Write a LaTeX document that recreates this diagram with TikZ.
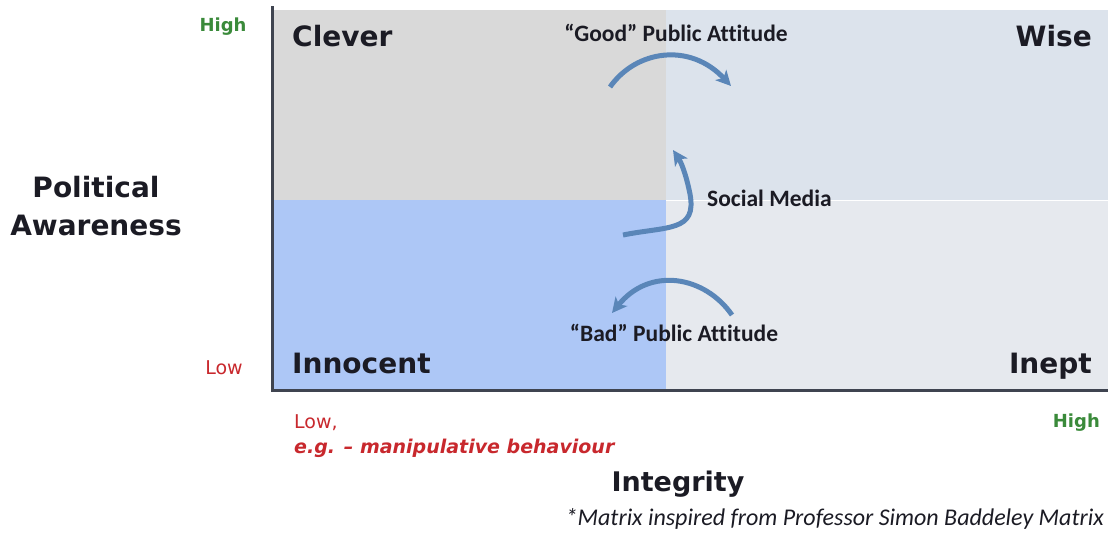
\documentclass[tikz,border=0pt]{standalone}
\usepackage{fontspec}
\setmainfont{Carlito}[Ligatures={TeX,NoCommon}]
\newfontfamily\quadfont{DejaVu Sans}
\usetikzlibrary{positioning}
\usetikzlibrary{arrows.meta}

\definecolor{cleverfill}{HTML}{D9D9D9}
\definecolor{wisefill}{HTML}{DCE3EC}
\definecolor{innocentfill}{HTML}{ADC7F6}
\definecolor{ineptfill}{HTML}{E6E9EE}
\definecolor{axisline}{HTML}{3F4450}
\definecolor{shiftblue}{HTML}{5A86B8}
\definecolor{highgreen}{HTML}{3A8A3A}
\definecolor{lowred}{HTML}{C8282D}
\definecolor{inktext}{HTML}{1B1B24}

\begin{document}
\begin{tikzpicture}[x=1pt, y=-1pt,
        % Quadrant names and the axis titles share the heavy sans face
        quadlabel/.style={font=\quadfont\bfseries\fontsize{28}{38}\selectfont,
        text=inktext, inner sep=0pt},
        % Notes on the arrows
        arrowlabel/.style={font=\bfseries\fontsize{23.5}{26}\selectfont,
        text=inktext, inner sep=0pt},
        % High / Low marks along the axes
        highmark/.style={font=\quadfont\bfseries\fontsize{18}{22}\selectfont,
        text=highgreen, inner sep=0pt},
        lowmark/.style={font=\quadfont\fontsize{19}{22}\selectfont,
        text=lowred, inner sep=0pt},
        % Thick curved arrows between the quadrants
        movearrow/.style={draw=shiftblue, line width=5pt,
        -{Stealth[length=15pt, width=15pt, inset=4pt]}}
    ]
    \useasboundingbox (0,0) rectangle (1108,535);

    % --- Quadrants ---
    \fill[cleverfill]   (272,10)  rectangle (666,200);
    \fill[wisefill]     (666,10)  rectangle (1108,200);
    \fill[innocentfill] (272,200) rectangle (666,390);
    \fill[ineptfill]    (666,200) rectangle (1108,390);
    \draw[white, line width=1pt] (666,200) -- (1108,200);

    % --- Axes ---
    \coordinate (top) at (272,8);
    \coordinate (origin) at (272,390);
    \coordinate (right) at (1108,390);
    \draw[axisline, line width=3pt, line cap=rect] (top) -- (origin) -- (right);

    % --- Quadrant names ---
    \node[quadlabel, anchor=base west] (clever) at (292,47) {Clever};
    \node[quadlabel, anchor=base east] (wise) at (1092,47) {Wise};
    \node[quadlabel, anchor=base west] (innocent) at (292,373) {Innocent};
    \node[quadlabel, anchor=base east] (inept) at (1092,373) {Inept};

    % --- Vertical axis ---
    \node[highmark] (ahigh) at (223,27) {High};
    \node[lowmark] (alow) at (224,368) {Low};
    \node[quadlabel, align=center] (awareness) at (96,206) {Political\\Awareness};

    % --- Horizontal axis ---
    \node[lowmark, anchor=west] (ilow) at (294,423) {Low,};
    \node[lowmark, font=\quadfont\bfseries\itshape\fontsize{19}{22}\selectfont,
        below=8pt of ilow.south west, anchor=north west] (ieg) {e.g. – manipulative behaviour};
    \node[highmark, anchor=east] (ihigh) at (1100,423) {High};
    \node[quadlabel, font=\quadfont\bfseries\fontsize{27}{30}\selectfont] (integrity) at (678,484) {Integrity};
    \node[font=\itshape\fontsize{24}{26}\selectfont, text=inktext, anchor=east, inner sep=0pt]
        (credit) at (1104,519) {*Matrix inspired from Professor Simon Baddeley Matrix};

    % --- Moves between quadrants ---
    \node[arrowlabel] (good) at (676,33) {``Good'' Public Attitude};
    \coordinate (good_from) at (610,87);
    \coordinate (good_to) at (731,86);
    \draw[movearrow] (good_from) .. controls (636,50) and (690,42) .. (good_to);

    \node[arrowlabel, anchor=west] (social) at (707,198) {Social Media};
    \coordinate (social_from) at (623,235);
    \coordinate (social_to) at (673,150);
    \draw[movearrow] (social_from) .. controls (668,226) and (697,232) .. (690,194)
        .. controls (686,174) and (681,162) .. (social_to);

    \node[arrowlabel] (bad) at (674,333) {``Bad'' Public Attitude};
    \coordinate (bad_from) at (732,315);
    \coordinate (bad_to) at (612,313);
    \draw[movearrow] (bad_from) .. controls (705,276) and (650,266) .. (bad_to);

    \end{tikzpicture}
\end{document}
